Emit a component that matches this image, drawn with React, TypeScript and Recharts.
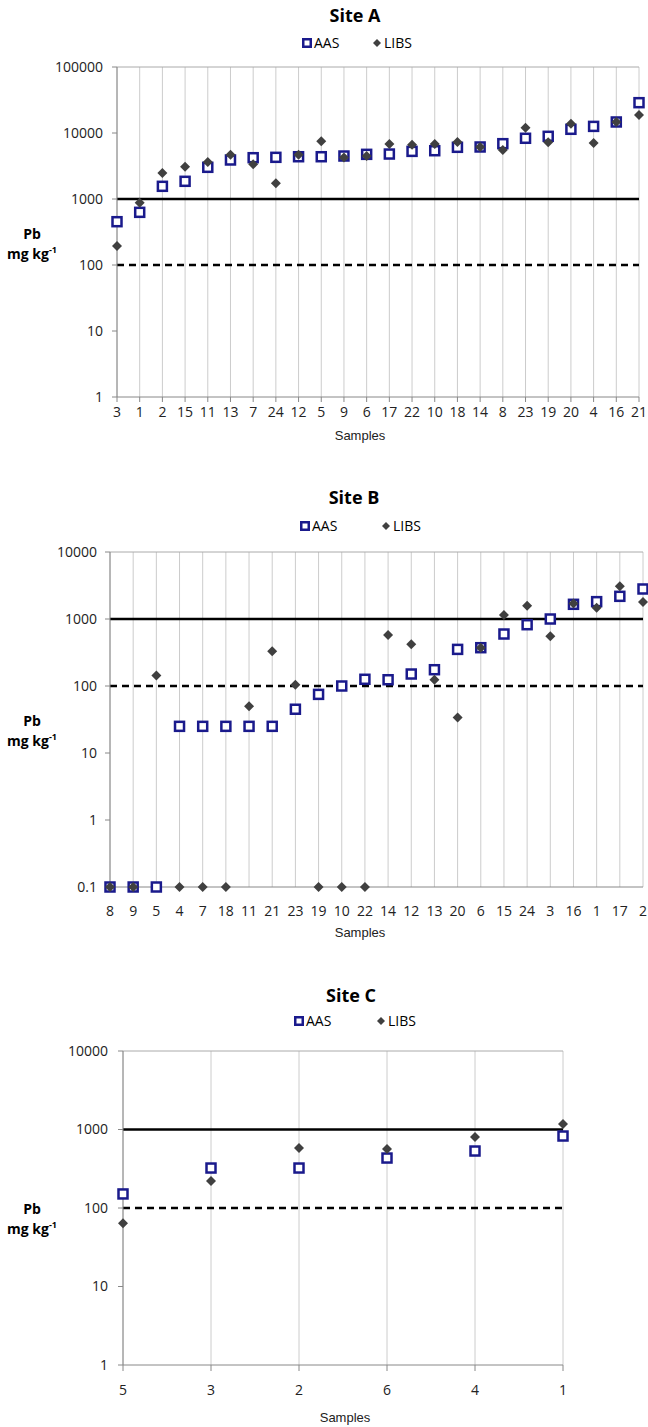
import React from "react";
import {
  CartesianGrid,
  ReferenceLine,
  Scatter,
  ScatterChart,
  XAxis,
  YAxis,
} from "recharts";

// Site A
const samplesA = ["3", "1", "2", "15", "11", "13", "7", "24", "12", "5", "9", "6", "17", "22", "10", "18", "14", "8", "23", "19", "20", "4", "16", "21"];
const aasA = [453, 628, 1557, 1854, 3020, 3900, 4225, 4280, 4370, 4370, 4480, 4750, 4800, 5270, 5390, 6070, 6140, 6890, 8320, 8910, 11380, 12600, 14690, 28800];
const libsA = [194, 880, 2477, 3090, 3630, 4690, 3350, 1730, 4690, 7480, 4250, 4480, 6810, 6640, 6810, 7310, 6140, 5520, 12040, 7230, 13830, 7050, 14700, 18700];

// Site B (0.1 = below detection)
const samplesB = ["8", "9", "5", "4", "7", "18", "11", "21", "23", "19", "10", "22", "14", "12", "13", "20", "6", "15", "24", "3", "16", "1", "17", "2"];
const aasB = [0.1, 0.1, 0.1, 25, 25, 25, 25, 25, 45, 75, 100, 126, 124, 151, 175, 352, 373, 597, 822, 1000, 1657, 1815, 2180, 2805];
const libsB = [0.1, 0.1, 144, 0.1, 0.1, 0.1, 50, 330, 104, 0.1, 0.1, 0.1, 577, 419, 124, 34, 373, 1150, 1580, 551, 1700, 1475, 3075, 1795];

// Site C
const samplesC = ["5", "3", "2", "6", "4", "1"];
const aasC = [151, 323, 323, 433, 532, 826];
const libsC = [64, 221, 581, 565, 802, 1175];

const ticksA = [1, 10, 100, 1000, 10000, 100000];
const ticksB = [0.1, 1, 10, 100, 1000, 10000];
const ticksC = [1, 10, 100, 1000, 10000];

const NAVY = "#1a1a8c";
const DARK = "#404040";
const FONT = "'Open Sans', sans-serif";

const squareShape = (props: any) => {
  const { cx, cy } = props;
  return (
    <rect
      x={cx - 4.5}
      y={cy - 4.5}
      width={9}
      height={9}
      fill="#fff"
      stroke={NAVY}
      strokeWidth={2.5}
    />
  );
};

const diamondShape = (props: any) => {
  const { cx, cy } = props;
  return (
    <path
      d={`M${cx},${cy - 5} L${cx + 5},${cy} L${cx},${cy + 5} L${cx - 5},${cy} Z`}
      fill={DARK}
    />
  );
};

interface PanelProps {
  top: number;
  height: number;
  title: string;
  titleX: number;
  titleY: number;
  legendY: number;
  squareX: number;
  diamondX: number;
  samples: string[];
  aas: number[];
  libs: number[];
  yTicks: number[];
  margin: { top: number; right: number; bottom: number; left: number };
  yAxisWidth: number;
  yTickMargin: number;
  xTickMargin: number;
  xTickSize: number;
  xTickLine: boolean;
  pbY: number;
  samplesX: number;
  samplesY: number;
}

function Panel(p: PanelProps) {
  const idx = p.samples.map((_, i) => i);
  const aasRows = p.samples.map((s, i) => ({ i, v: p.aas[i], s }));
  const libsRows = p.samples.map((s, i) => ({ i, v: p.libs[i], s }));
  const yMin = p.yTicks[0];
  const yMax = p.yTicks[p.yTicks.length - 1];
  const tick = { fontSize: 14, fill: "#222", fontFamily: FONT };

  return (
    <div style={{ position: "absolute", left: 0, top: p.top, width: 648, height: p.height }}>
      <ScatterChart width={648} height={p.height} margin={p.margin}>
        <CartesianGrid horizontal={false} stroke="#cccccc" />
        <XAxis
          type="number"
          dataKey="i"
          domain={[0, p.samples.length - 1]}
          ticks={idx}
          interval={0}
          tickFormatter={(i: number) => p.samples[i]}
          tick={tick}
          tickSize={p.xTickSize}
          tickMargin={p.xTickMargin}
          tickLine={p.xTickLine ? { stroke: "#888" } : false}
          axisLine={{ stroke: "#888" }}
          height={30}
        />
        <YAxis
          type="number"
          dataKey="v"
          scale="log"
          domain={[yMin, yMax]}
          ticks={p.yTicks}
          interval={0}
          tick={tick}
          tickSize={5}
          tickMargin={p.yTickMargin}
          tickLine={{ stroke: "#888" }}
          axisLine={{ stroke: "#888" }}
          width={p.yAxisWidth}
        />
        <ReferenceLine y={yMax} stroke="#aaaaaa" strokeWidth={1} />
        <ReferenceLine y={1000} stroke="#000" strokeWidth={2.5} />
        <ReferenceLine y={100} stroke="#000" strokeWidth={2.5} strokeDasharray="7 5" />
        <Scatter data={aasRows} shape={squareShape} isAnimationActive={false} />
        <Scatter data={libsRows} shape={diamondShape} isAnimationActive={false} />
      </ScatterChart>

      <div
        style={{
          position: "absolute",
          left: p.titleX,
          top: p.titleY - 12,
          transform: "translateX(-50%)",
          fontFamily: FONT,
          fontWeight: 700,
          fontSize: 18,
          lineHeight: "24px",
          whiteSpace: "nowrap",
        }}
      >
        {p.title}
      </div>

      <svg
        width={10}
        height={10}
        style={{ position: "absolute", left: p.squareX - 5, top: p.legendY - 5, display: "block" }}
      >
        <rect x={1.25} y={1.25} width={7.5} height={7.5} fill="#fff" stroke={NAVY} strokeWidth={2.5} />
      </svg>
      <div style={{ position: "absolute", left: p.squareX + 7, top: p.legendY - 10, fontFamily: FONT, fontSize: 14, lineHeight: "20px" }}>
        AAS
      </div>
      <svg
        width={10}
        height={10}
        style={{ position: "absolute", left: p.diamondX - 5, top: p.legendY - 5, display: "block" }}
      >
        <path d="M5,1 L9,5 L5,9 L1,5 Z" fill={DARK} />
      </svg>
      <div style={{ position: "absolute", left: p.diamondX + 7, top: p.legendY - 10, fontFamily: FONT, fontSize: 14, lineHeight: "20px" }}>
        LIBS
      </div>

      <div
        style={{
          position: "absolute",
          left: 32,
          top: p.pbY - 10,
          transform: "translateX(-50%)",
          textAlign: "center",
          fontFamily: FONT,
          fontWeight: 700,
          fontSize: 14,
          lineHeight: "20px",
          whiteSpace: "nowrap",
        }}
      >
        Pb
        <br />
        mg kg<sup style={{ fontSize: 9, lineHeight: 0 }}>-1</sup>
      </div>

      <div
        style={{
          position: "absolute",
          left: p.samplesX,
          top: p.samplesY - 9,
          transform: "translateX(-50%)",
          fontFamily: "'Liberation Sans', Arial, sans-serif",
          fontSize: 13,
          lineHeight: "18px",
          color: "#222",
        }}
      >
        Samples
      </div>
    </div>
  );
}

export default function App() {
  return (
    <div style={{ position: "absolute", left: 0, top: 0, width: 648, height: 1427, background: "#fff" }}>
      <Panel
        top={0}
        height={460}
        title="Site A"
        titleX={355}
        titleY={15}
        legendY={43}
        squareX={307}
        diamondX={377}
        samples={samplesA}
        aas={aasA}
        libs={libsA}
        yTicks={ticksA}
        margin={{ top: 67, right: 9, bottom: 33, left: 0 }}
        yAxisWidth={117}
        yTickMargin={9}
        xTickMargin={5}
        xTickSize={5}
        xTickLine={true}
        pbY={234}
        samplesX={360}
        samplesY={436}
      />
      <Panel
        top={470}
        height={470}
        title="Site B"
        titleX={354}
        titleY={27}
        legendY={56}
        squareX={305}
        diamondX={386}
        samples={samplesB}
        aas={aasB}
        libs={libsB}
        yTicks={ticksB}
        margin={{ top: 82, right: 5, bottom: 23, left: 0 }}
        yAxisWidth={110}
        yTickMargin={8}
        xTickMargin={14}
        xTickSize={5}
        xTickLine={false}
        pbY={251}
        samplesX={360}
        samplesY={463}
      />
      <Panel
        top={960}
        height={467}
        title="Site C"
        titleX={351}
        titleY={35}
        legendY={61}
        squareX={299}
        diamondX={381}
        samples={samplesC}
        aas={aasC}
        libs={libsC}
        yTicks={ticksC}
        margin={{ top: 91, right: 85, bottom: 32, left: 0 }}
        yAxisWidth={123}
        yTickMargin={10}
        xTickMargin={14}
        xTickSize={6}
        xTickLine={true}
        pbY={249}
        samplesX={345}
        samplesY={458}
      />
    </div>
  );
}
